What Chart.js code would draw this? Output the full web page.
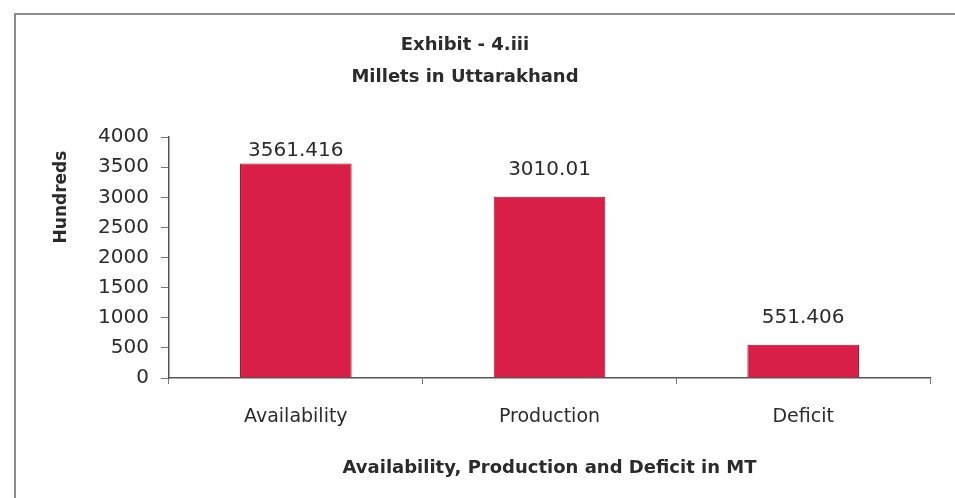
<!doctype html>
<html lang="en">
<head>
    <meta charset="utf-8">
    <title>Millets in Uttarakhand</title>
    <style>
        body { margin: 0; background: #fff; }
        #container { width: 955px; height: 498px; }
    </style>
</head>
<body>
    <div id="container"><canvas id="chart"></canvas></div>

    <script src="https://cdn.jsdelivr.net/npm/chart.js@4"></script>
    <script>
        const categories = ["Availability", "Production", "Deficit"];
        const values = [3561.416, 3010.01, 551.406];
        const yTicks = [0, 500, 1000, 1500, 2000, 2500, 3000, 3500, 4000];

        const FONT = "'DejaVu Sans', sans-serif";
        const TEXT = "#2b2b2b";

        // frame lines of the scanned exhibit + rotated y title
        const framePlugin = {
            id: "frame",
            beforeDraw(chart) {
                const ctx = chart.ctx;
                ctx.save();
                ctx.strokeStyle = "#8a8a8a";
                ctx.lineWidth = 2;
                ctx.beginPath();
                ctx.moveTo(15, chart.height);
                ctx.lineTo(15, 14);
                ctx.lineTo(chart.width, 14);
                ctx.stroke();
                ctx.restore();
            },
            afterDraw(chart) {
                const ctx = chart.ctx;
                ctx.save();
                ctx.translate(62, 197);
                ctx.rotate(-Math.PI / 2);
                ctx.font = "bold 17px " + FONT;
                ctx.fillStyle = TEXT;
                ctx.textAlign = "center";
                ctx.textBaseline = "middle";
                ctx.fillText("Hundreds", 0, 0);
                ctx.restore();
            }
        };

        const valueLabels = {
            id: "valueLabels",
            afterDatasetsDraw(chart) {
                const ctx = chart.ctx;
                const meta = chart.getDatasetMeta(0);
                ctx.save();
                ctx.font = "20px " + FONT;
                ctx.fillStyle = TEXT;
                ctx.textAlign = "center";
                ctx.textBaseline = "middle";
                meta.data.forEach((bar, i) => {
                    const y = Math.max(bar.y - 27, chart.chartArea.top + 14);
                    ctx.fillText(String(values[i]), bar.x, y);
                });
                ctx.restore();
            }
        };

        const config = {
            type: "bar",
            data: {
                labels: categories,
                datasets: [{
                    data: values,
                    backgroundColor: "#d91e48",
                    borderColor: "#a8102e",
                    borderWidth: 1,
                    barPercentage: 0.44,
                    categoryPercentage: 1
                }]
            },
            options: {
                responsive: true,
                maintainAspectRatio: false,
                animation: false,
                layout: { padding: { left: 0, right: 25, top: 0, bottom: 0 } },
                scales: {
                    x: {
                        offset: true,
                        grid: {
                            display: true,
                            offset: true,
                            drawOnChartArea: false,
                            tickLength: 6,
                            color: "#777"
                        },
                        border: { color: "#555", width: 1.5 },
                        ticks: {
                            padding: 22,
                            color: TEXT,
                            font: { family: FONT, size: 19 }
                        },
                        title: {
                            display: true,
                            text: "Availability, Production and Deficit in MT",
                            color: TEXT,
                            font: { family: FONT, size: 18, weight: "bold" },
                            padding: { top: 4, bottom: 19 }
                        },
                        afterFit: s => { s.height = 120; }
                    },
                    y: {
                        min: 0,
                        max: 4000,
                        afterBuildTicks: s => { s.ticks = yTicks.map(v => ({ value: v })); },
                        grid: {
                            display: true,
                            drawOnChartArea: false,
                            tickLength: 8,
                            color: "#777"
                        },
                        border: { color: "#555", width: 1.5 },
                        ticks: {
                            padding: 12,
                            color: TEXT,
                            font: { family: FONT, size: 20 },
                            callback: v => String(v)
                        },
                        afterFit: s => { s.width = 169; }
                    }
                },
                plugins: {
                    legend: { display: false },
                    tooltip: { enabled: false },
                    title: {
                        display: true,
                        text: ["Exhibit - 4.iii", "Millets in Uttarakhand"],
                        color: TEXT,
                        font: { family: FONT, size: 18, weight: "bold", lineHeight: 1.78 },
                        padding: { top: 29, bottom: 44 }
                    }
                }
            },
            plugins: [framePlugin, valueLabels]
        };

        const chart = new Chart("chart", config);
    </script>
</body>
</html>
